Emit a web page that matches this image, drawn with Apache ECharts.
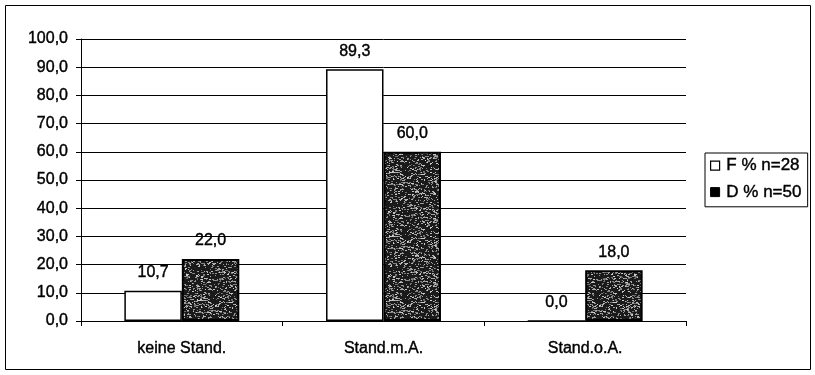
<!DOCTYPE html>
<html><head><meta charset="utf-8">
<script src="https://cdn.jsdelivr.net/npm/echarts@6/dist/echarts.min.js"></script>
<style>html,body{margin:0;padding:0;background:#fff}#c{width:815px;height:375px}</style>
</head><body><div id="c"></div>
<script>
const categories = ['keine Stand.', 'Stand.m.A.', 'Stand.o.A.'];
const seriesNames = ['F % n=28', 'D % n=50'];
const valuesF = [10.7, 89.3, 0.0];
const valuesD = [22.0, 60.0, 18.0];
const yTicks = [0, 10, 20, 30, 40, 50, 60, 70, 80, 90, 100];

function fmt(v){ return Number(v).toFixed(1).replace('.', ','); }

// speckled dark texture (deterministic)
const pc = document.createElement('canvas');
pc.width = 64; pc.height = 64;
const pctx = pc.getContext('2d');
pctx.fillStyle = '#1a1a1a';
pctx.fillRect(0,0,64,64);
let s = 12345;
function rnd(){ s = (s * 1103515245 + 12345) & 0x7fffffff; return s / 0x7fffffff; }
for (let i = 0; i < 900; i++) {
  const x = Math.floor(rnd()*64), y = Math.floor(rnd()*64);
  const g = 100 + Math.floor(rnd()*110);
  pctx.fillStyle = 'rgb(' + g + ',' + g + ',' + g + ')';
  pctx.fillRect(x, y, 1 + Math.floor(rnd()*2), 1);
}

const chart = echarts.init(document.getElementById('c'), null, {renderer: 'canvas'});
const font = 'Liberation Sans, Arial, sans-serif';
const heavy = {textBorderColor: '#000', textBorderWidth: 0.4};
chart.setOption({
  backgroundColor: '#fff',
  animation: false,
  grid: {left: 81, right: 129, top: 39, bottom: 54, containLabel: false},
  graphic: [{
    type: 'rect', shape: {x: 5.5, y: 5.5, width: 805, height: 364},
    style: {fill: 'none', stroke: '#000', lineWidth: 1}, silent: true, z: -1
  }],
  legend: {
    orient: 'vertical', left: 705, top: 153,
    padding: [4, 6, 6, 5], itemGap: 9, itemWidth: 9, itemHeight: 9,
    borderColor: '#000', borderWidth: 1, backgroundColor: '#fff',
    textStyle: Object.assign({fontFamily: font, fontSize: 17, color: '#000', padding: [0,0,0,-3]}, heavy),
    data: [
      {name: seriesNames[0], icon: 'rect', itemStyle: {color: '#fff', borderColor: '#000', borderWidth: 1.2}},
      {name: seriesNames[1], icon: 'rect', itemStyle: {color: '#000', borderColor: '#000', borderWidth: 1}}
    ],
    formatter: n => ' ' + n
  },
  xAxis: {
    type: 'category', data: categories,
    axisLine: {lineStyle: {color: '#000', width: 1}},
    axisTick: {show: true, length: 5, lineStyle: {color: '#000'}},
    axisLabel: Object.assign({fontFamily: font, fontSize: 16, color: '#000', margin: 20}, heavy)
  },
  yAxis: {
    type: 'value', min: yTicks[0], max: yTicks[yTicks.length-1], interval: 10,
    axisLine: {show: true, lineStyle: {color: '#000', width: 1}},
    axisTick: {show: true, length: 5, lineStyle: {color: '#000'}},
    axisLabel: Object.assign({fontFamily: font, fontSize: 16, color: '#000', margin: 13, formatter: fmt}, heavy),
    splitLine: {show: true, lineStyle: {color: '#000', width: 1}}
  },
  series: [
    {
      name: seriesNames[0], type: 'bar', data: valuesF,
      barGap: '0%', barCategoryGap: '43%',
      itemStyle: {color: '#fff', borderColor: '#000', borderWidth: 1.5},
      label: Object.assign({show: true, position: 'top', distance: 10, formatter: p => fmt(p.value),
        fontFamily: font, fontSize: 16, color: '#000'}, heavy)
    },
    {
      name: seriesNames[1], type: 'bar', data: valuesD,
      itemStyle: {color: {image: pc, repeat: 'repeat'}, borderColor: '#000', borderWidth: 2},
      label: Object.assign({show: true, position: 'top', distance: 10, formatter: p => fmt(p.value),
        fontFamily: font, fontSize: 16, color: '#000'}, heavy)
    }
  ]
});
</script></body></html>
